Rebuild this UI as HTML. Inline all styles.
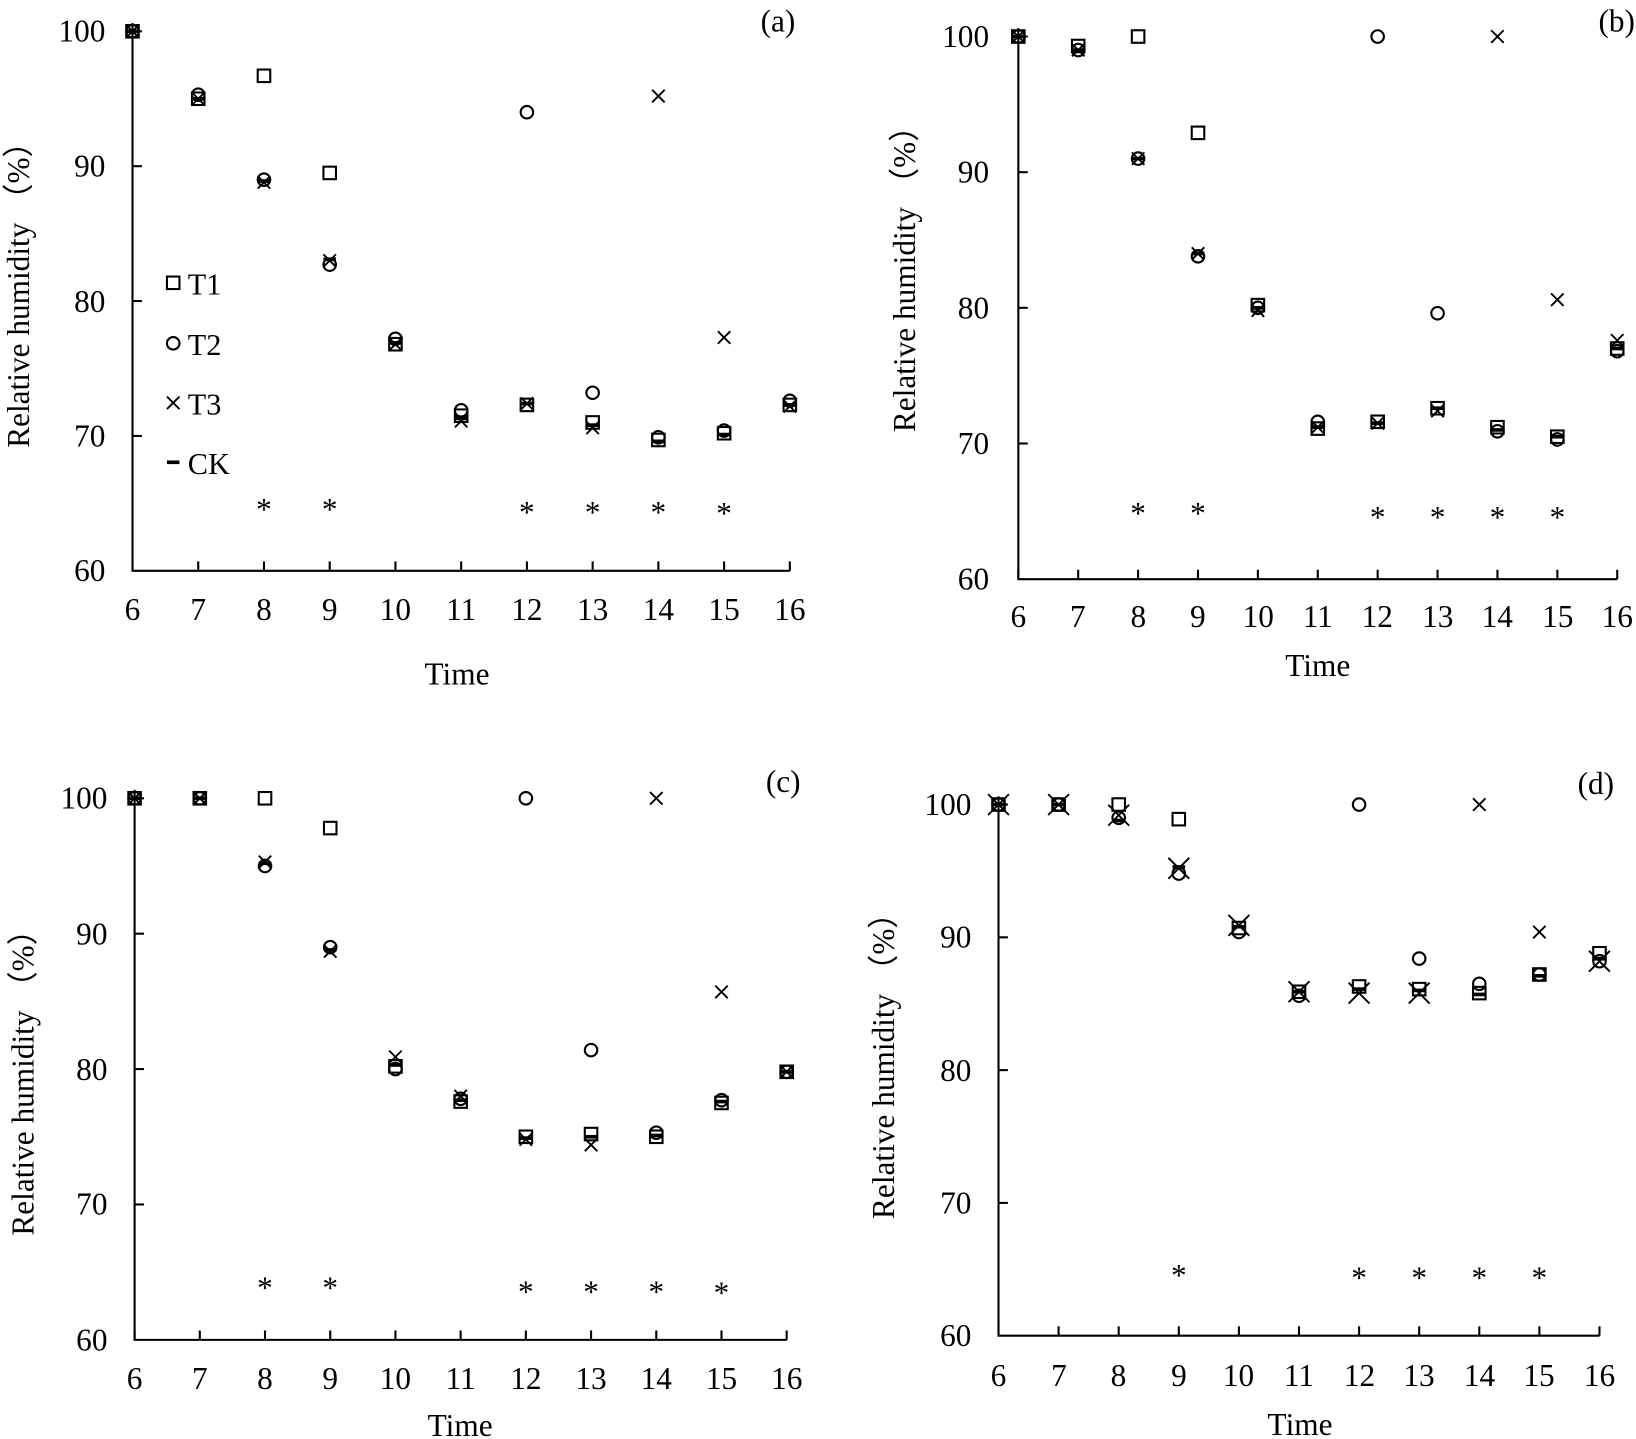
<!DOCTYPE html>
<html><head><meta charset="utf-8"><style>
html,body{margin:0;padding:0;background:#fff;}
svg{display:block;}
text{font-family:"Liberation Serif",serif;fill:#000;}
.t{font-size:30px;text-anchor:middle;}
.y{font-size:30px;text-anchor:end;}
.yl{font-size:30px;text-anchor:middle;}
</style></head><body>
<svg id="s" width="1636" height="1439" viewBox="0 0 1568 1379" preserveAspectRatio="none" xmlns="http://www.w3.org/2000/svg">
<g id="g" stroke="#000" fill="none" stroke-width="2"></g>
<!-- panel a -->
<g class="t"><text x="127" y="594">6</text><text x="190" y="594">7</text><text x="253" y="594">8</text><text x="316" y="594">9</text><text x="379" y="594">10</text><text x="442" y="594">11</text><text x="505" y="594">12</text><text x="568" y="594">13</text><text x="631" y="594">14</text><text x="694" y="594">15</text><text x="757" y="594">16</text><text x="438" y="656">Time</text></g>
<g class="y"><text x="101" y="40">100</text><text x="101" y="169">90</text><text x="101" y="299">80</text><text x="101" y="428">70</text><text x="101" y="557">60</text></g>
<text class="yl" transform="translate(28,275) rotate(-90)">Relative humidity （%）</text>
<text x="729" y="30" style="font-size:30px">(a)</text>
<g style="font-size:29px"><text x="180" y="282">T1</text><text x="180" y="340">T2</text><text x="180" y="397">T3</text><text x="180" y="454">CK</text></g>
<!-- panel b -->
<g class="t"><text x="976" y="601">6</text><text x="1033" y="601">7</text><text x="1091" y="601">8</text><text x="1148" y="601">9</text><text x="1206" y="601">10</text><text x="1263" y="601">11</text><text x="1320" y="601">12</text><text x="1378" y="601">13</text><text x="1435" y="601">14</text><text x="1493" y="601">15</text><text x="1550" y="601">16</text><text x="1263" y="648">Time</text></g>
<g class="y"><text x="948" y="45">100</text><text x="948" y="175">90</text><text x="948" y="305">80</text><text x="948" y="435">70</text><text x="948" y="565">60</text></g>
<text class="yl" transform="translate(877,260) rotate(-90)">Relative humidity （%）</text>
<text x="1532" y="30" style="font-size:30px">(b)</text>
<!-- panel c -->
<g class="t"><text x="129" y="1331">6</text><text x="191.5" y="1331">7</text><text x="254" y="1331">8</text><text x="316.5" y="1331">9</text><text x="379" y="1331">10</text><text x="441.5" y="1331">11</text><text x="504" y="1331">12</text><text x="566.5" y="1331">13</text><text x="629" y="1331">14</text><text x="691.5" y="1331">15</text><text x="754" y="1331">16</text><text x="441" y="1376">Time</text></g>
<g class="y"><text x="103" y="775">100</text><text x="103" y="905">90</text><text x="103" y="1035">80</text><text x="103" y="1164">70</text><text x="103" y="1294">60</text></g>
<text class="yl" transform="translate(32,1030) rotate(-90)">Relative humidity （%）</text>
<text x="734" y="759" style="font-size:30px">(c)</text>
<!-- panel d -->
<g class="t"><text x="957" y="1328">6</text><text x="1015" y="1328">7</text><text x="1072" y="1328">8</text><text x="1130" y="1328">9</text><text x="1187" y="1328">10</text><text x="1245" y="1328">11</text><text x="1303" y="1328">12</text><text x="1360" y="1328">13</text><text x="1418" y="1328">14</text><text x="1475" y="1328">15</text><text x="1533" y="1328">16</text><text x="1246" y="1375">Time</text></g>
<g class="y"><text x="931" y="781">100</text><text x="931" y="908">90</text><text x="931" y="1036">80</text><text x="931" y="1163">70</text><text x="931" y="1290">60</text></g>
<text class="yl" transform="translate(857,1014) rotate(-90)">Relative humidity （%）</text>
<text x="1512" y="761" style="font-size:30px">(d)</text>
</svg>
<script>
var g=document.getElementById('g'),NS='http://www.w3.org/2000/svg';
function el(t,a){var e=document.createElementNS(NS,t);for(var k in a)e.setAttribute(k,a[k]);g.appendChild(e);return e;}
function sq(x,y){el('rect',{x:x-6,y:y-6,width:12,height:12});}
function ci(x,y){el('circle',{cx:x,cy:y,r:6});}
function cr(x,y,s){s=s||6;el('path',{d:'M'+(x-s)+' '+(y-s)+'L'+(x+s)+' '+(y+s)+'M'+(x+s)+' '+(y-s)+'L'+(x-s)+' '+(y+s),'stroke-width':1.8});}
function ck(x,y){el('path',{d:'M'+(x-6)+' '+y+'H'+(x+6),'stroke-width':3.5});}
function st(x,y){var t=document.createElementNS(NS,'text');t.setAttribute('x',x);t.setAttribute('y',y+16);t.setAttribute('text-anchor','middle');t.setAttribute('style','font-size:30px');t.textContent='*';document.getElementById('s').appendChild(t);}
var P=[
{x0:127,x1:757,y1:30,y0:547,top:22,
T1:[100,95,96.7,89.5,76.8,71.5,72.3,71,69.7,70.2,72.3],
T2:[100,95.3,89,82.7,77.2,71.9,94,73.2,69.9,70.4,72.6],
T3:[100,95,88.8,83,76.8,71.1,72.4,70.6,95.2,77.3,72.2],
CK:[100,95,88.9,83.1,76.9,71.3,72.4,70.8,69.6,70.1,72.3],
S:[[8,65],[9,65],[12,64.8],[13,64.8],[14,64.8],[15,64.7]]},
{x0:976,x1:1550,y1:35,y0:555,top:27,
T1:[100,99.3,100,92.9,80.2,71.1,71.6,72.6,71.2,70.5,77],
T2:[100,99,91,83.8,80,71.6,100,79.6,70.9,70.3,76.8],
T3:[100,99,91,84,79.8,71.2,71.5,72.4,100,80.6,77.6],
CK:[100,99,91,84,80,71.2,71.5,72.6,71,70.5,77],
S:[[8,65.3],[9,65.3],[12,65],[13,65],[14,65],[15,65]]},
{x0:129,x1:754,y1:765,y0:1284,top:757,
T1:[100,100,100,97.8,80.2,77.6,75,75.2,75,77.5,79.8],
T2:[100,100,95,89,80,77.8,100,81.4,75.3,77.7,79.8],
T3:[100,100,95.3,88.7,80.9,78,74.8,74.4,100,85.7,79.8],
CK:[100,100,95.2,88.8,80.3,77.7,74.9,75,75.1,77.6,79.8],
S:[[8,64.3],[9,64.3],[12,64],[13,64],[14,64],[15,63.9]]},
{x0:957,x1:1533,y1:771,y0:1280,top:763,big:true,
T1:[100,100,100,98.9,90.7,85.9,86.3,86.1,85.8,87.2,88.8],
T2:[100,100,99,94.8,90.4,85.6,100,88.4,86.5,87.2,88.2],
T3:[100,100,99.2,95.2,90.9,85.9,85.8,85.8,100,90.4,88.2],
CK:[100,100,98.8,95.3,90.8,85.9,86.1,86,85.7,87.1,88.4],
S:[[9,65],[12,64.8],[13,64.8],[14,64.8],[15,64.8]]}];
P.forEach(function(p){
 var dx=(p.x1-p.x0)/10,dy=(p.y0-p.y1)/40;
 function X(t){return p.x0+(t-6)*dx;} function Y(v){return p.y0-(v-60)*dy;}
 el('path',{d:'M'+p.x0+' '+p.top+'V'+p.y0+'H'+p.x1});
 for(var i=0;i<=10;i++)el('path',{d:'M'+X(6+i)+' '+p.y0+'v-9'});
 for(var v=70;v<=100;v+=10)el('path',{d:'M'+p.x0+' '+Y(v)+'h9'});
 for(var i=0;i<11;i++){var x=X(6+i);
  sq(x,Y(p.T1[i]));ci(x,Y(p.T2[i]));
  var s=(p.big&&i!=8&&i!=9)?10:6;cr(x,Y(p.T3[i]),s);ck(x,Y(p.CK[i]));}
 p.S.forEach(function(a){st(X(a[0]),Y(a[1]));});
});
sq(166,271);ci(166,329);cr(166,386,6);ck(166,443);
</script>
</body></html>
